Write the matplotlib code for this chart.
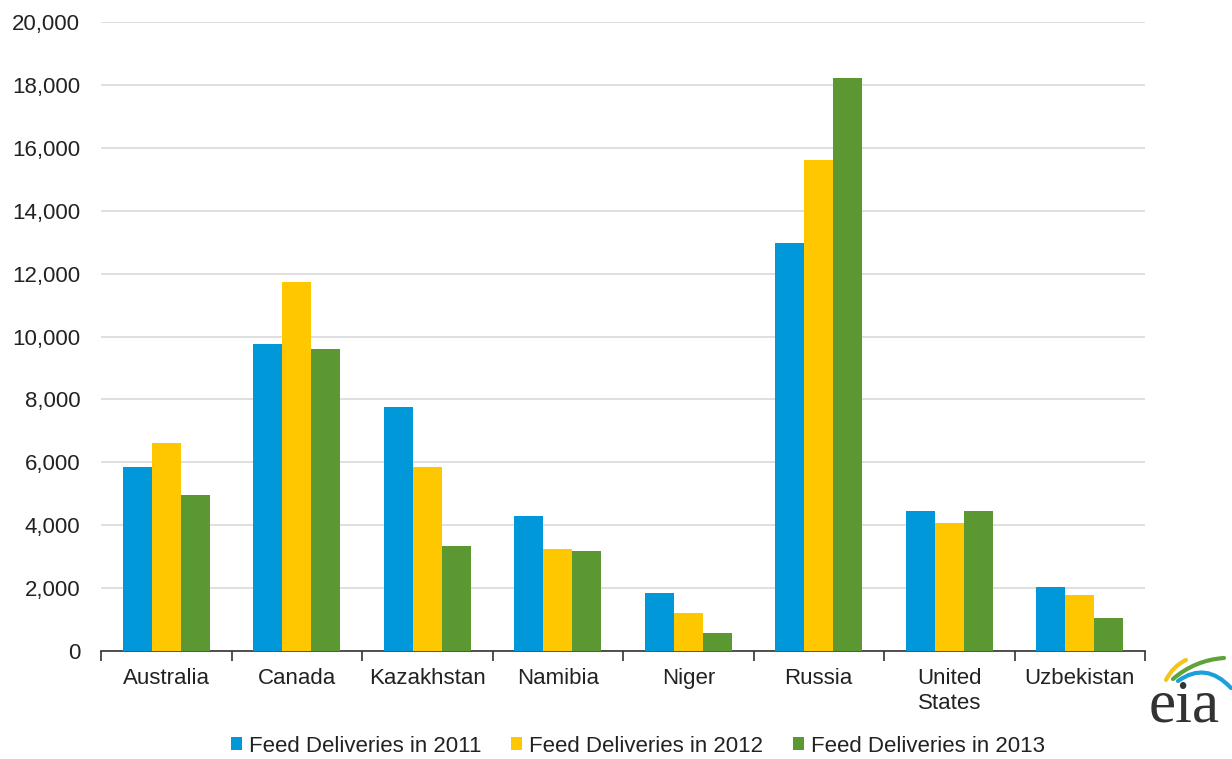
import matplotlib
matplotlib.use("Agg")
import matplotlib.pyplot as plt
import numpy as np
from matplotlib.path import Path
from matplotlib.patches import PathPatch

plt.rcParams['font.family'] = ['Liberation Sans', 'DejaVu Sans']

categories = ["Australia", "Canada", "Kazakhstan", "Namibia", "Niger", "Russia", "United\nStates", "Uzbekistan"]
series_names = ["Feed Deliveries in 2011", "Feed Deliveries in 2012", "Feed Deliveries in 2013"]
d2011 = [5850, 9760, 7760, 4290, 1840, 12970, 4450, 2030]
d2012 = [6600, 11730, 5850, 3240, 1210, 15610, 4070, 1780]
d2013 = [4950, 9600, 3340, 3180, 570, 18220, 4450, 1050]
yticks = [0, 2000, 4000, 6000, 8000, 10000, 12000, 14000, 16000, 18000, 20000]
colors = ["#0098D8", "#FFC700", "#5C9832"]

fig = plt.figure(figsize=(12.32, 7.59), dpi=100)
ax = fig.add_axes([101/1232, 1-651/759, (1145-101)/1232, (651-22)/759])

x = np.arange(len(categories))
w = 0.223
for i, (vals, c, name) in enumerate(zip([d2011, d2012, d2013], colors, series_names)):
    ax.bar(x + (i-1)*w, vals, width=w, color=c, label=name, zorder=3)

ax.set_xlim(-0.5, len(categories)-0.5)
ax.set_ylim(0, 20000)
ax.set_yticks(yticks)
ax.set_yticklabels([f"{v:,}" for v in yticks], fontsize=16, color="#222222")
ax.yaxis.grid(True, color="#D9D9D9", linewidth=1.2, zorder=0)
ax.tick_params(axis='y', length=0, pad=15)
for s in ["left", "right", "top"]:
    ax.spines[s].set_visible(False)
ax.spines["bottom"].set_color("#333333")
ax.spines["bottom"].set_linewidth(1.2)

ax.set_xticks(x)
ax.set_xticklabels(categories, fontsize=16, color="#222222", linespacing=1.3)
ax.tick_params(axis='x', length=0, pad=12)
ax.set_xticks(np.arange(-0.5, len(categories)), minor=True)
ax.tick_params(axis='x', which='minor', length=7, width=1.2, color="#333333")

leg = fig.legend(loc="center", bbox_to_anchor=(638/1232, 1-746/759), ncol=3, frameon=False,
                 fontsize=16, handlelength=0.5, handleheight=0.5, handletextpad=0.3,
                 columnspacing=1.35)
for t in leg.get_texts():
    t.set_color("#222222")

# eia logo
fig.text(1184/1232, 1-707/759, "eia", family=["Liberation Serif", "DejaVu Serif"], fontsize=44,
         color="#333333", ha="center", va="center")
lax = fig.add_axes([1140/1232, 1-730/759, 92/1232, 80/759])
lax.set_xlim(0, 92); lax.set_ylim(0, 80)
lax.axis("off")
curves = [
    ((26, 50), (33, 64), (46, 70), "#F4C41E"),
    ((33, 51), (55, 70), (84, 72), "#5EA33A"),
    ((38, 49), (66, 69), (91, 42), "#1BA0DA"),
]
for p0, c, p2, col in curves:
    path = Path([p0, c, p2], [Path.MOVETO, Path.CURVE3, Path.CURVE3])
    lax.add_patch(PathPatch(path, fill=False, edgecolor=col, lw=3, capstyle="round"))

fig.savefig("out.png", dpi=100)
